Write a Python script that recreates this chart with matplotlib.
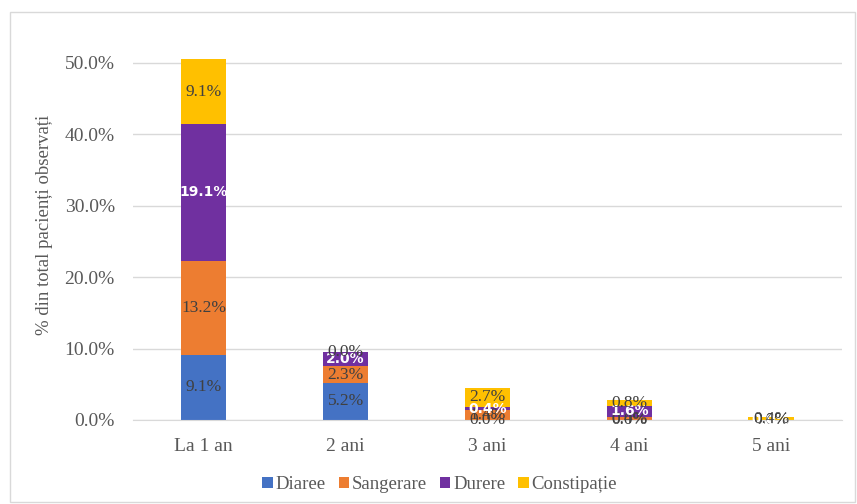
import numpy as np
import matplotlib.pyplot as plt
from matplotlib.patches import Rectangle
from matplotlib.ticker import FuncFormatter

categories = ["La 1 an", "2 ani", "3 ani", "4 ani", "5 ani"]
series_names = ["Diaree", "Sangerare", "Durere", "Constipație"]
diaree = [9.1, 5.2, 0.0, 0.0, 0.0]
sangerare = [13.2, 2.3, 1.4, 0.4, 0.0]
durere = [19.1, 2.0, 0.4, 1.6, 0.0]
constipatie = [9.1, 0.0, 2.7, 0.8, 0.4]

colors = ["#4472C4", "#ED7D31", "#7030A0", "#FFC000"]
text_gray = "#595959"
grid_gray = "#D9D9D9"

fig = plt.figure(figsize=(8.57, 5.04), dpi=100)
ax = fig.add_axes([0.155, 0.1667, 0.8275, 0.774])

# chart border
fig.patches.append(Rectangle((10 / 857, 2 / 504), 845 / 857, 490 / 504,
                             transform=fig.transFigure, fill=False,
                             edgecolor=grid_gray, linewidth=1))

x = np.arange(len(categories))
bottom = np.zeros(len(categories))
all_series = [diaree, sangerare, durere, constipatie]
for name, vals, col in zip(series_names, all_series, colors):
    vals = np.array(vals)
    ax.bar(x, vals, 0.32, bottom=bottom, color=col, label=name, zorder=3)
    for xi, b, v in zip(x, bottom, vals):
        yc = b + v / 2
        if name == "Durere":
            ax.text(xi, yc, f"{v:.1f}%", ha="center", va="center", color="white",
                    fontsize=10, fontweight="bold", family="DejaVu Sans", zorder=5)
        else:
            ax.text(xi, yc, f"{v:.1f}%", ha="center", va="center", color="#404040",
                    fontsize=12.5, family="Liberation Serif", zorder=5)
    bottom += vals

ax.set_xlim(-0.5, len(categories) - 0.5)
ax.set_ylim(0, 54.6)
ax.set_yticks(np.arange(0, 51, 10))
ax.yaxis.set_major_formatter(FuncFormatter(lambda v, p: f"{v:.1f}%"))
ax.set_xticks(x)
ax.set_xticklabels(categories)
ax.grid(axis="y", color=grid_gray, linewidth=1, zorder=0)
for s in ["top", "right", "left"]:
    ax.spines[s].set_visible(False)
ax.spines["bottom"].set_color(grid_gray)
ax.spines["bottom"].set_zorder(4)
ax.tick_params(axis="both", length=0, labelsize=14, labelcolor=text_gray)
ax.tick_params(axis="y", pad=13)
ax.tick_params(axis="x", pad=13)
for lab in ax.get_xticklabels() + ax.get_yticklabels():
    lab.set_family("Liberation Serif")

ax.set_ylabel("% din total pacienți observați", fontsize=13.5, color=text_gray,
              family="Liberation Serif", labelpad=8)

leg = fig.legend(loc="center", bbox_to_anchor=(0.513, 0.038), ncol=4, frameon=False,
                 prop={"family": "Liberation Serif", "size": 13.5},
                 handlelength=0.55, handleheight=0.55, handletextpad=0.15,
                 columnspacing=0.7)
for t in leg.get_texts():
    t.set_color(text_gray)

fig.savefig("out.png", dpi=100)
